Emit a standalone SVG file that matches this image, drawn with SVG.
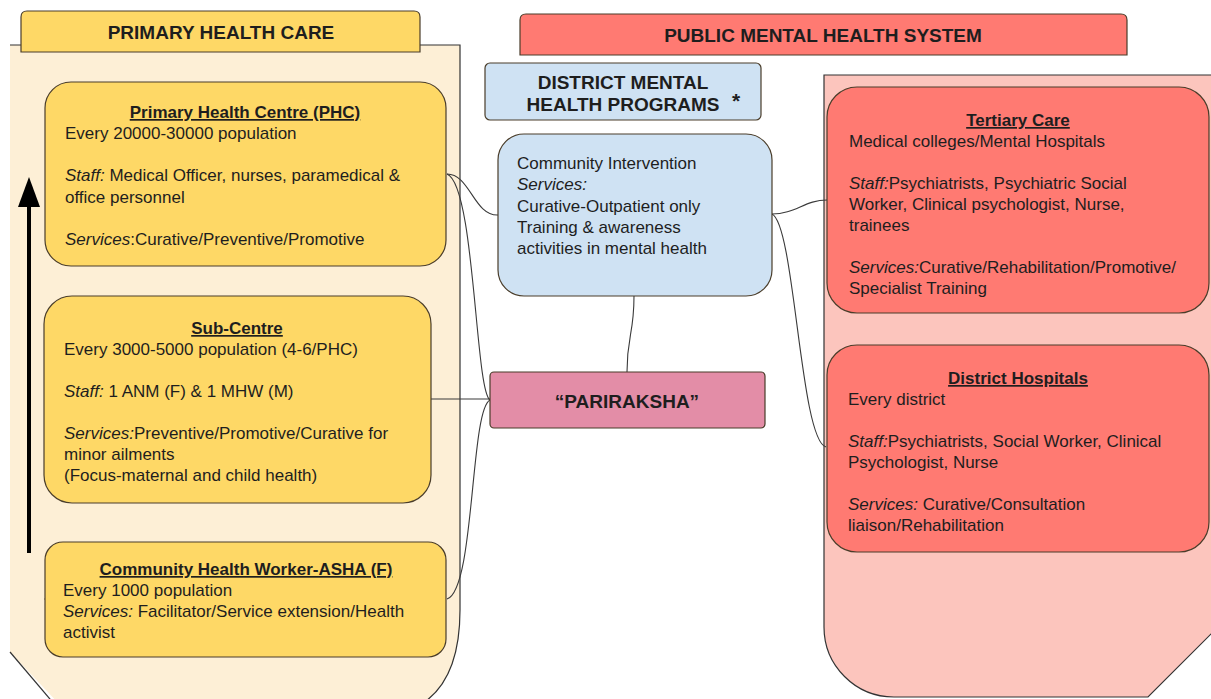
<svg xmlns="http://www.w3.org/2000/svg" width="1211" height="699" viewBox="0 0 1211 699">
<defs>
<style>
text{font-family:"Liberation Sans",Arial,sans-serif;fill:#1e1e1e}
.t{font-size:17px}
.b{font-weight:bold}
.hd{font-size:19px;font-weight:bold}
.h{font-size:17px;font-weight:bold;text-decoration:underline}
.c{text-anchor:middle}
.i{font-style:italic}
.box{stroke:#4a3d2a;stroke-width:1.2}
.yel{fill:#fed866}
.red{fill:#ff7a72}
.blue{fill:#cfe2f3}
.conn{fill:none;stroke:#3a3a3a;stroke-width:1.1}
</style>
</defs>
<rect width="1211" height="699" fill="#ffffff"/>

<g id="primary-container">
<path d="M10,45 H460 V610 C460,660 445,690 420,705 H60 L10,652 Z" fill="#fdefd6"/>
<path d="M10,45 H460 V610 C460,660 445,690 420,705" fill="none" stroke="#333" stroke-width="1.2"/>
<path d="M10,652 L55,705" fill="none" stroke="#333" stroke-width="1.2"/>
</g>

<g id="public-container">
<path d="M824,75 H1215 V630 L1148,697 H894 A70,70 0 0 1 824,627 Z" fill="#fcc5bd"/>
<path d="M1215,75 H824 V627 A70,70 0 0 0 894,697 H1148 L1213,632" fill="none" stroke="#333" stroke-width="1.2"/>
</g>

<g id="primary-header">
<path d="M21,52 V17 Q21,11 27,11 H414 Q420,11 420,17 V52 Z" class="yel box"/>
<text x="221" y="39" class="hd c">PRIMARY HEALTH CARE</text>
</g>

<g id="public-header">
<path d="M520,55 V20 Q520,14 526,14 H1121 Q1127,14 1127,20 V55 Z" class="red box"/>
<text x="823" y="42" class="hd c">PUBLIC MENTAL HEALTH SYSTEM</text>
</g>

<g id="arrow">
<line x1="29" y1="553" x2="29" y2="200" stroke="#000" stroke-width="4"/>
<path d="M18,207 L29,177 L40,207 Z" fill="#000"/>
</g>

<g id="connectors">
<path class="conn" d="M447,174 C470,174 474,216 498,215"/>
<path class="conn" d="M447,174 C475,185 475,390 490,400"/>
<path class="conn" d="M431,399 H490"/>
<path class="conn" d="M447,599 C475,590 470,410 490,400"/>
<path class="conn" d="M772,214 C795,214 805,200 827,200"/>
<path class="conn" d="M772,214 C795,225 800,440 826,447"/>
<path class="conn" d="M634,296 C634,335 627,335 627,372"/>
<path d="M44,599 L50,596 L50,602 Z" fill="#111"/>
</g>

<g id="phc">
<rect x="45" y="82" width="401" height="184" rx="26" class="yel box"/>
<text x="245" y="118" class="h c">Primary Health Centre (PHC)</text>
<text x="65" y="139" class="t">Every 20000-30000 population</text>
<text x="65" y="181" class="t"><tspan class="i">Staff:</tspan> Medical Officer, nurses, paramedical &amp;</text>
<text x="65" y="203" class="t">office personnel</text>
<text x="65" y="245" class="t"><tspan class="i">Services</tspan>:Curative/Preventive/Promotive</text>
</g>

<g id="sub-centre">
<rect x="44" y="296" width="387" height="207" rx="28" class="yel box"/>
<text x="237" y="334" class="h c">Sub-Centre</text>
<text x="64" y="355" class="t">Every 3000-5000 population (4-6/PHC)</text>
<text x="64" y="397" class="t"><tspan class="i">Staff:</tspan> 1 ANM (F) &amp; 1 MHW (M)</text>
<text x="64" y="439" class="t"><tspan class="i">Services:</tspan>Preventive/Promotive/Curative for</text>
<text x="64" y="460" class="t">minor ailments</text>
<text x="64" y="481" class="t">(Focus-maternal and child health)</text>
</g>

<g id="asha">
<rect x="45" y="542" width="401" height="115" rx="18" class="yel box"/>
<text x="246" y="575" class="h c">Community Health Worker-ASHA (F)</text>
<text x="63" y="596" class="t">Every 1000 population</text>
<text x="63" y="617" class="t"><tspan class="i">Services:</tspan> Facilitator/Service extension/Health</text>
<text x="63" y="638" class="t">activist</text>
</g>

<g id="dmhp">
<rect x="485" y="63" width="276" height="57" rx="5" class="blue box"/>
<text x="623" y="89" class="hd c">DISTRICT MENTAL</text>
<text x="623" y="111" class="hd c">HEALTH PROGRAMS</text>
<text x="736" y="108" class="b c" font-size="21">*</text>
</g>

<g id="community-intervention">
<rect x="498" y="134" width="274" height="162" rx="26" class="blue box"/>
<text x="517" y="169" class="t">Community Intervention</text>
<text x="517" y="190" class="t i">Services:</text>
<text x="517" y="212" class="t">Curative-Outpatient only</text>
<text x="517" y="233" class="t">Training &amp; awareness</text>
<text x="517" y="254" class="t">activities in mental health</text>
</g>

<g id="pariraksha">
<rect x="490" y="372" width="275" height="56" rx="4" fill="#e38da7" class="box"/>
<text x="627" y="408" class="hd c">“PARIRAKSHA”</text>
</g>

<g id="tertiary">
<rect x="827" y="87" width="382" height="226" rx="30" class="red box"/>
<text x="1018" y="126" class="h c">Tertiary Care</text>
<text x="849" y="147" class="t">Medical colleges/Mental Hospitals</text>
<text x="849" y="189" class="t"><tspan class="i">Staff:</tspan>Psychiatrists, Psychiatric Social</text>
<text x="849" y="210" class="t">Worker, Clinical psychologist, Nurse,</text>
<text x="849" y="231" class="t">trainees</text>
<text x="849" y="273" class="t"><tspan class="i">Services:</tspan>Curative/Rehabilitation/Promotive/</text>
<text x="849" y="294" class="t">Specialist Training</text>
</g>

<g id="district-hospitals">
<rect x="827" y="345" width="382" height="207" rx="30" class="red box"/>
<text x="1018" y="384" class="h c">District Hospitals</text>
<text x="848" y="405" class="t">Every district</text>
<text x="848" y="447" class="t"><tspan class="i">Staff:</tspan>Psychiatrists, Social Worker, Clinical</text>
<text x="848" y="468" class="t">Psychologist, Nurse</text>
<text x="848" y="510" class="t"><tspan class="i">Services:</tspan> Curative/Consultation</text>
<text x="848" y="531" class="t">liaison/Rehabilitation</text>
</g>
</svg>
